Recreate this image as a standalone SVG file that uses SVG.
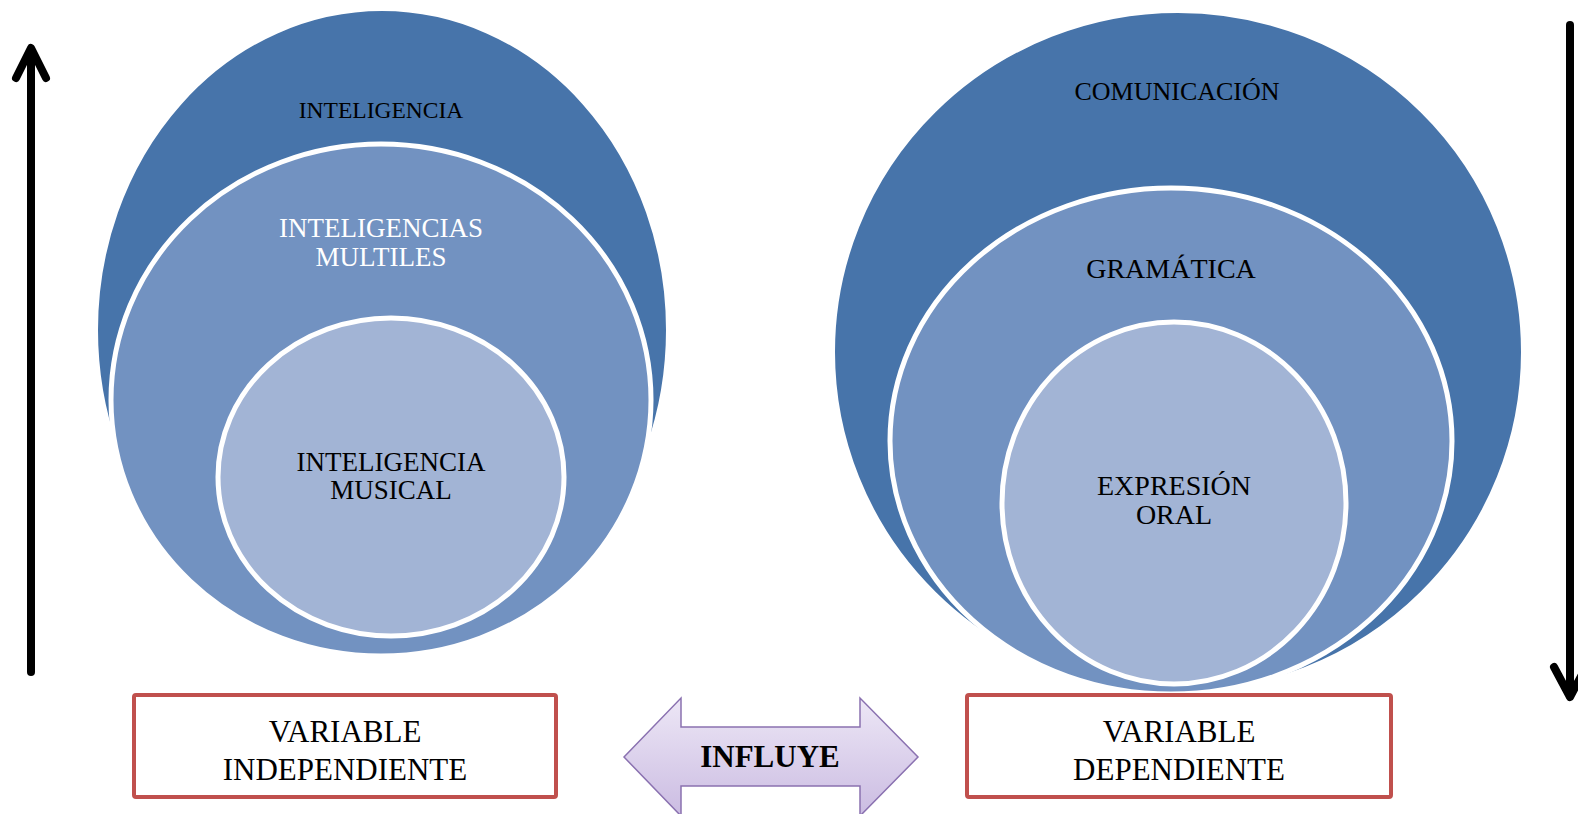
<svg xmlns="http://www.w3.org/2000/svg" width="1578" height="814" viewBox="0 0 1578 814">
<defs>
<style>
.outer{fill:#4774AA;stroke:#fff;stroke-width:2}
.mid{fill:#7292C1;stroke:#fff;stroke-width:5}
.inner{fill:#A2B4D5;stroke:#fff;stroke-width:5}
.t{font-family:"Liberation Serif","Times New Roman",serif;text-anchor:middle;fill:#000}
.w{fill:#fff}
.box{fill:#fff;stroke:#C0504D;stroke-width:4}
.bar{stroke:#000;stroke-width:8;stroke-linecap:round;stroke-linejoin:round;fill:none}
</style>
<linearGradient id="lav" x1="0" y1="0" x2="0" y2="1">
<stop offset="0" stop-color="#EDE7F6"/>
<stop offset="1" stop-color="#CBBCE2"/>
</linearGradient>
</defs>
<rect width="1578" height="814" fill="#fff"/>

<g id="left-venn">
<ellipse class="outer" cx="382" cy="330" rx="285" ry="320"/>
<ellipse class="mid" cx="381" cy="400" rx="270" ry="256"/>
<ellipse class="inner" cx="391" cy="477" rx="173" ry="159"/>
<text class="t" x="381" y="118" font-size="23.5">INTELIGENCIA</text>
<text class="t w" x="381" y="237" font-size="27">INTELIGENCIAS</text>
<text class="t w" x="381" y="266" font-size="27">MULTILES</text>
<text class="t" x="391" y="471" font-size="27">INTELIGENCIA</text>
<text class="t" x="391" y="499" font-size="27">MUSICAL</text>
</g>

<g id="right-venn">
<ellipse class="outer" cx="1178" cy="352" rx="344" ry="340"/>
<ellipse class="mid" cx="1171" cy="441" rx="281" ry="253"/>
<ellipse class="inner" cx="1174" cy="503" rx="172" ry="181"/>
<text class="t" x="1177" y="100" font-size="26">COMUNICACIÓN</text>
<text class="t" x="1171" y="278" font-size="28">GRAMÁTICA</text>
<text class="t" x="1174" y="495" font-size="28">EXPRESIÓN</text>
<text class="t" x="1174" y="524" font-size="28">ORAL</text>
</g>

<g id="box-independiente">
<rect class="box" x="134" y="695" width="422" height="102" rx="2"/>
<text class="t" x="345" y="742" font-size="31">VARIABLE</text>
<text class="t" x="345" y="780" font-size="31">INDEPENDIENTE</text>
</g>

<g id="box-dependiente">
<rect class="box" x="967" y="695" width="424" height="102" rx="2"/>
<text class="t" x="1179" y="742" font-size="31">VARIABLE</text>
<text class="t" x="1179" y="780" font-size="31">DEPENDIENTE</text>
</g>

<g id="influye">
<path d="M624,757 L681,698 L681,727 L860,727 L860,698 L918,757 L860,816 L860,786 L681,786 L681,816 Z" fill="url(#lav)" stroke="#8A71B0" stroke-width="1.5"/>
<text class="t" x="770" y="767" font-size="31" font-weight="bold">INFLUYE</text>
</g>

<g id="connectors">
<path class="bar" d="M31,672 L31,50"/>
<path class="bar" d="M16,78 L31,48 L46,78"/>
<path class="bar" d="M1570,25 L1570,695"/>
<path class="bar" d="M1554,667 L1570,697 L1586,667"/>
</g>
</svg>
